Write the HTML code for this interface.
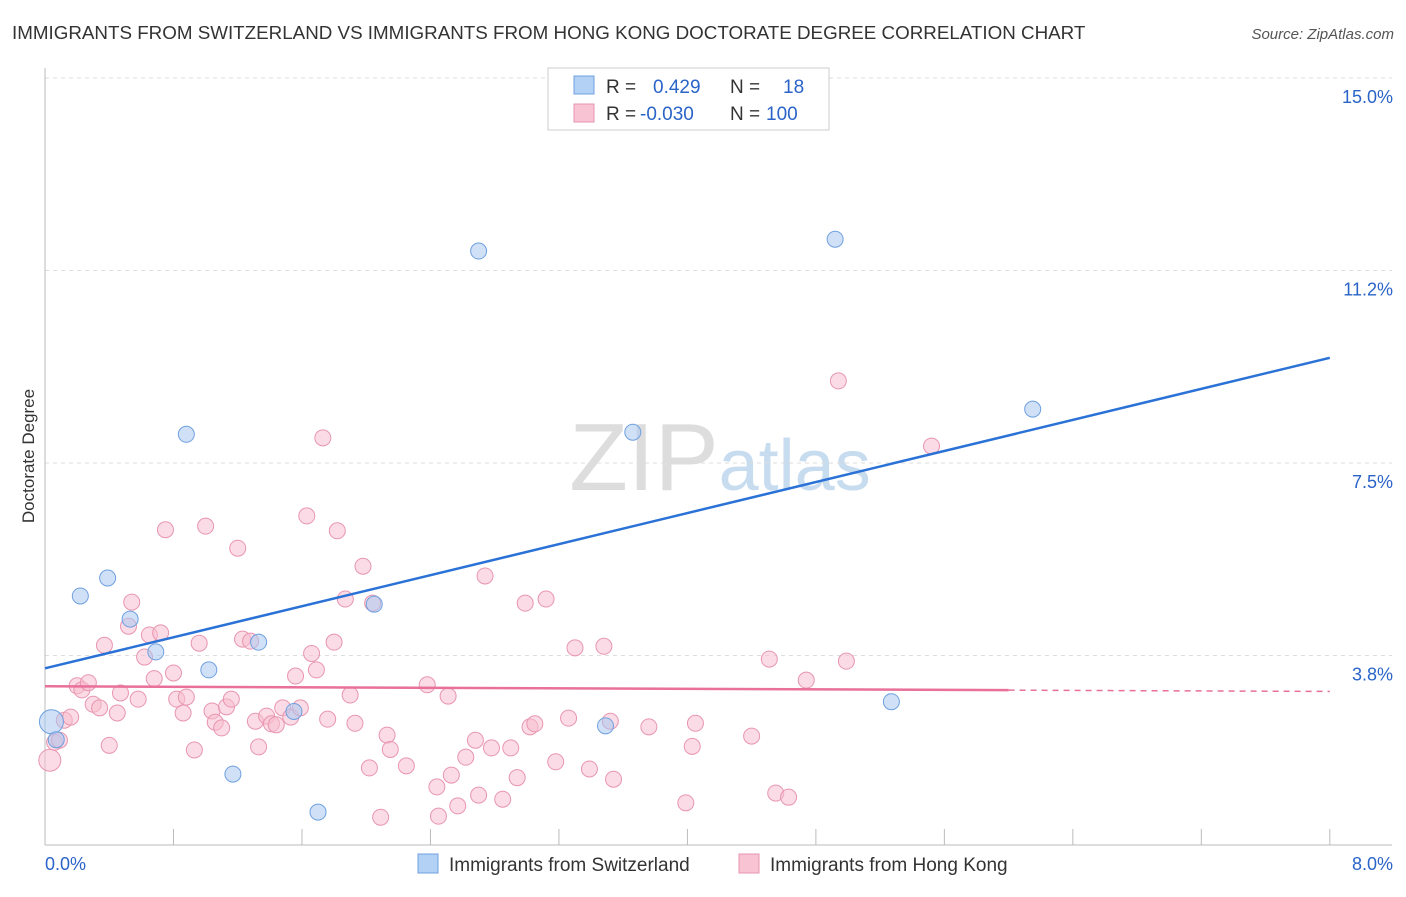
<!DOCTYPE html>
<html><head><meta charset="utf-8"><style>
body{margin:0;background:#fff;font-family:"Liberation Sans",sans-serif;}
svg text{font-family:"Liberation Sans",sans-serif;}
</style></head><body>
<svg id="c" width="1406" height="892">
<text x="12" y="39" font-size="18.8" fill="#333">IMMIGRANTS FROM SWITZERLAND VS IMMIGRANTS FROM HONG KONG DOCTORATE DEGREE CORRELATION CHART</text>
<text x="1394" y="39" font-size="15" fill="#555" font-style="italic" text-anchor="end">Source: ZipAtlas.com</text>
<text x="34" y="456" font-size="17" fill="#333" text-anchor="middle" transform="rotate(-90 34 456)">Doctorate Degree</text>
<text x="720" y="490" font-size="96" fill="#ddd" text-anchor="middle" font-family="Liberation Serif">ZIP<tspan fill="#c8dcf0" font-family="Liberation Sans" font-size="72">atlas</tspan></text>
<g id="grid"></g><g id="pts"></g><g id="lines"></g>
<g>
<rect x="548" y="68" width="281" height="62" fill="#fff" stroke="#ccc"/>
<rect x="574" y="76" width="20" height="18" fill="#b3d0f5" stroke="#6fa0e0"/>
<rect x="574" y="104" width="20" height="18" fill="#f8c4d4" stroke="#e896b0"/>
<text x="606" y="93" font-size="19" fill="#333">R = <tspan fill="#2a64c8" x="653">0.429</tspan><tspan x="730" fill="#333">N =</tspan><tspan fill="#2a64c8" x="783">18</tspan></text>
<text x="606" y="120" font-size="19" fill="#333">R = <tspan fill="#2a64c8" x="640">-0.030</tspan><tspan x="730" fill="#333">N =</tspan><tspan fill="#2a64c8" x="766">100</tspan></text>
</g>
<g>
<rect x="418" y="854" width="20" height="19" fill="#b3d0f5" stroke="#6fa0e0"/>
<text x="449" y="871" font-size="19" fill="#333">Immigrants from Switzerland</text>
<rect x="739" y="854" width="20" height="19" fill="#f8c4d4" stroke="#e896b0"/>
<text x="770" y="871" font-size="19" fill="#333">Immigrants from Hong Kong</text>
</g>
</svg>
<script>
const yTicks=[3.75,7.5,11.25,15];
const yTickLabels=["3.8%","7.5%","11.2%","15.0%"];
const xTicks=[0,0.8,1.6,2.4,3.2,4,4.8,5.6,6.4,7.2,8];
const blueX=[0.04,0.07,0.22,0.39,0.53,0.69,0.88,1.02,1.17,1.33,1.55,1.70,2.05,2.70,3.49,3.66,4.92,5.27,6.15];
const blueY=[2.46,2.11,4.91,5.26,4.46,3.82,8.06,3.47,1.44,4.01,2.66,0.70,4.75,11.63,2.38,8.10,11.86,2.85,8.55];
const pinkX=[0.03,0.06,0.09,0.12,0.16,0.20,0.23,0.27,0.30,0.34,0.37,0.40,0.45,0.47,0.52,0.54,0.58,0.62,0.65,0.68,0.72,0.75,0.80,0.82,0.86,0.88,0.93,0.96,1.00,1.04,1.06,1.10,1.13,1.16,1.20,1.23,1.28,1.31,1.33,1.38,1.41,1.44,1.48,1.53,1.56,1.59,1.63,1.66,1.69,1.73,1.76,1.80,1.82,1.87,1.90,1.93,1.98,2.02,2.04,2.09,2.13,2.15,2.25,2.38,2.44,2.45,2.51,2.53,2.57,2.62,2.68,2.70,2.74,2.78,2.85,2.90,2.94,2.99,3.02,3.05,3.12,3.18,3.26,3.30,3.39,3.48,3.52,3.54,3.76,3.99,4.03,4.05,4.40,4.51,4.55,4.63,4.74,4.94,4.99,5.52];
const pinkY=[1.71,2.06,2.10,2.49,2.55,3.16,3.08,3.22,2.80,2.73,3.95,2.00,2.63,3.02,4.32,4.79,2.90,3.72,4.15,3.30,4.19,6.20,3.41,2.90,2.63,2.94,1.91,3.99,6.27,2.67,2.45,2.34,2.75,2.90,5.84,4.07,4.03,2.47,1.97,2.57,2.42,2.40,2.73,2.55,3.35,2.73,6.47,3.79,3.47,7.99,2.51,4.01,6.18,4.85,2.98,2.43,5.49,1.56,4.77,0.60,2.20,1.92,1.60,3.18,1.19,0.62,2.96,1.42,0.82,1.77,2.10,1.03,5.30,1.95,0.95,1.95,1.37,4.77,2.36,2.42,4.85,1.68,2.53,3.90,1.54,3.93,2.47,1.34,2.36,0.88,1.98,2.43,2.18,3.68,1.07,0.99,3.27,9.10,3.64,7.83];
const blueFit=[3.5,9.55];
const pinkFit=[3.15,3.05];
const X=v=>45+v*160.6, Y=v=>848-v*51.33;
const NS="http://www.w3.org/2000/svg";
function mk(t,a,p){const e=document.createElementNS(NS,t);for(const k in a)e.setAttribute(k,a[k]);p.appendChild(e);return e;}
const grid=document.getElementById('grid');
yTicks.forEach((v,i)=>{
 const l=mk('line',{x1:45,x2:1392,y1:Y(v),y2:Y(v),stroke:'#ddd','stroke-dasharray':'4,4'},grid);
 
 
 const t=mk('text',{x:1393,y:Y(v)+25,'font-size':18,fill:'#2a64c8','text-anchor':'end'},grid);t.textContent=yTickLabels[i];
 
 
});
const ax=mk('line',{x1:45,x2:45,y1:68,y2:845,stroke:'#bbb'},grid);


const bx=mk('line',{x1:45,x2:1392,y1:845,y2:845,stroke:'#bbb'},grid);


xTicks.forEach(v=>{const t=mk('line',{x1:X(v),x2:X(v),y1:829,y2:845,stroke:'#bbb'},grid);
 
 });
[["0.0%",45,'start'],["8.0%",1393,'end']].forEach(a=>{const t=mk('text',{x:a[1],y:870,'font-size':18,fill:'#2a64c8','text-anchor':a[2]},grid);t.textContent=a[0];
 
 });
const pts=document.getElementById('pts');
pinkX.forEach((x,i)=>{const c=mk('circle',{cx:X(x),cy:Y(pinkY[i]),r:i==0?11:8,fill:'rgba(248,190,208,0.55)',stroke:'#e896b0','stroke-width':1},pts);
 
 });
blueX.forEach((x,i)=>{const c=mk('circle',{cx:X(x),cy:Y(blueY[i]),r:i==0?12:8,fill:'rgba(170,200,240,0.55)',stroke:'#6fa0e0','stroke-width':1},pts);
 
 });
const lines=document.getElementById('lines');
const bl=mk('line',{x1:X(0),y1:Y(blueFit[0]),x2:X(8),y2:Y(blueFit[1]),stroke:'#2b72d6','stroke-width':2.5},lines);


const pm=pinkFit[0]+(pinkFit[1]-pinkFit[0])*(6/8);
const pl=mk('line',{x1:X(0),y1:Y(pinkFit[0]),x2:X(6),y2:Y(pm),stroke:'#e8709a','stroke-width':2.5},lines);


const pd=mk('line',{x1:X(6),y1:Y(pm),x2:X(8),y2:Y(pinkFit[1]),stroke:'#e8709a','stroke-width':1.5,'stroke-dasharray':'6,5'},lines);


</script>
</body></html>
